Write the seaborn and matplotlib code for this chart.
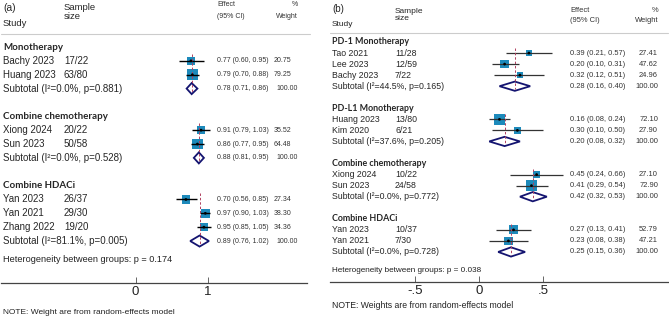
import matplotlib
matplotlib.use("Agg")
import matplotlib.pyplot as plt
import matplotlib.transforms as mtransforms
from matplotlib.patches import Polygon
import seaborn as sns
import numpy as np
import pandas as pd

# ---------------- data: panel (a) ----------------
groups_a = ["Monotherapy", "Combine chemotherapy", "Combine HDACi"]
studies_a = ["Bachy 2023", "Huang 2023", "Xiong 2024", "Sun 2023",
             "Yan 2023", "Yan 2021", "Zhang 2022"]
group_of_a = [0, 0, 1, 1, 2, 2, 2]
sample_a = ["17/22", "63/80", "20/22", "50/58", "26/37", "29/30", "19/20"]
est_a = [0.77, 0.79, 0.91, 0.86, 0.70, 0.97, 0.95]
lo_a = [0.60, 0.70, 0.79, 0.77, 0.56, 0.90, 0.85]
hi_a = [0.95, 0.88, 1.03, 0.95, 0.85, 1.03, 1.05]
w_a = [20.75, 79.25, 35.52, 64.48, 27.34, 38.30, 34.36]
sub_est_a = [0.78, 0.88, 0.89]
sub_lo_a = [0.71, 0.81, 0.76]
sub_hi_a = [0.86, 0.95, 1.02]
sub_i2_a = ["0.0", "0.0", "81.1"]
sub_p_a = ["0.881", "0.528", "0.005"]
het_p_a = "0.174"
ticks_a = [0, 1]
ticklabels_a = ["0", "1"]

# ---------------- data: panel (b) ----------------
groups_b = ["PD-1 Monotherapy", "PD-L1 Monotherapy", "Combine chemotherapy", "Combine HDACi"]
studies_b = ["Tao 2021", "Lee 2023", "Bachy 2023", "Huang 2023", "Kim 2020",
             "Xiong 2024", "Sun 2023", "Yan 2023", "Yan 2021"]
group_of_b = [0, 0, 0, 1, 1, 2, 2, 3, 3]
sample_b = ["11/28", "12/59", "7/22", "13/80", "6/21", "10/22", "24/58", "10/37", "7/30"]
est_b = [0.39, 0.20, 0.32, 0.16, 0.30, 0.45, 0.41, 0.27, 0.23]
lo_b = [0.21, 0.10, 0.12, 0.08, 0.10, 0.24, 0.29, 0.13, 0.08]
hi_b = [0.57, 0.31, 0.51, 0.24, 0.50, 0.66, 0.54, 0.41, 0.38]
w_b = [27.41, 47.62, 24.96, 72.10, 27.90, 27.10, 72.90, 52.79, 47.21]
sub_est_b = [0.28, 0.20, 0.42, 0.25]
sub_lo_b = [0.16, 0.08, 0.32, 0.15]
sub_hi_b = [0.40, 0.32, 0.53, 0.36]
sub_i2_b = ["44.5", "37.6", "0.0", "0.0"]
sub_p_b = ["0.165", "0.205", "0.772", "0.728"]
het_p_b = "0.038"
ticks_b = [-0.5, 0, 0.5]
ticklabels_b = ["-.5", "0", ".5"]

sns.set_style("white")
plt.rcParams["font.family"] = ["Liberation Sans", "DejaVu Sans"]

W, H = 669, 317
fig = plt.figure(figsize=(W / 100, H / 100), dpi=100)

SQ = "#1d8abb"
DIA = "#141470"
DASH = "#b04060"


def layout_rows(groups, group_of):
    rows = []  # (kind, index, row)
    r = 0
    for g in range(len(groups)):
        rows.append(("hdr", g, r)); r += 1
        for i, gg in enumerate(group_of):
            if gg == g:
                rows.append(("study", i, r)); r += 1
        rows.append(("sub", g, r)); r += 2
    return rows


def forest(p):
    # axes placed in pixel space
    x0, x1 = p["ax_px"]
    ax = fig.add_axes([x0 / W, (H - p["axis_y"]) / H, (x1 - x0) / W, p["axis_y"] / H])
    zx, ux = p["zero_px"], p["unit_px"]
    ax.set_xlim((x0 - zx) / ux, (x1 - zx) / ux)
    r0, sp = p["row0"], p["rowsp"]
    ax.set_ylim((p["axis_y"] - r0) / sp, -r0 / sp)

    def ay(py):  # pixel y -> data row
        return (py - r0) / sp

    tr = mtransforms.blended_transform_factory(ax.transAxes, ax.transData)

    def ax_x(px):
        return (px - x0) / (x1 - x0)

    rows = layout_rows(p["groups"], p["group_of"])
    df = pd.DataFrame({"study": p["studies"], "est": p["est"], "lo": p["lo"],
                       "hi": p["hi"], "w": p["w"]})
    df["row"] = [r for k, i, r in rows if k == "study"]
    sub_rows = [r for k, i, r in rows if k == "sub"]

    # dashed subgroup line
    for g in range(len(p["groups"])):
        first = min(df["row"][np.array(p["group_of"]) == g])
        ax.plot([p["sub_est"][g]] * 2, [first - 0.5, sub_rows[g] + 0.25],
                color=DASH, lw=0.7, ls=(0, (2.5, 2)), zorder=4)

    # CI lines
    ax.hlines(df["row"], df["lo"], df["hi"], color=p["ci_col"], lw=p["ci_lw"], zorder=3)
    # weight squares
    sns.scatterplot(data=df, x="est", y="row", size="w", sizes=p["sizes"],
                    size_norm=(0, 100), marker="s", color=SQ, edgecolor="none",
                    linewidth=0, legend=False, ax=ax, zorder=2)
    sns.scatterplot(data=df, x="est", y="row", s=4, color="black", edgecolor="none",
                    legend=False, ax=ax, zorder=5)

    # diamonds
    hh = p["dia_h"]
    for g in range(len(p["groups"])):
        r = sub_rows[g]
        e, l, h = p["sub_est"][g], p["sub_lo"][g], p["sub_hi"][g]
        ax.add_patch(Polygon([(l, r), (e, r - hh), (h, r), (e, r + hh)], closed=True,
                             facecolor="white", edgecolor=DIA, lw=1.3, zorder=3))

    # text columns
    fs, fse = p["fs"], p["fs_eff"]
    for kind, i, r in rows:
        if kind == "hdr":
            ax.text(ax_x(p["c_study"]), r, p["groups"][i], transform=tr, fontsize=p["fs_hdr"],
                    fontweight="bold", family=["Lato", "DejaVu Sans"], va="center", ha="left")
        elif kind == "study":
            ax.text(ax_x(p["c_study"]), r, p["studies"][i], transform=tr, fontsize=fs,
                    va="center", ha="left")
            ax.text(ax_x(p["c_n"]), r, p["sample"][i], transform=tr, fontsize=fs,
                    va="center", ha="left")
            eff = f"{p['est'][i]:.2f} ({p['lo'][i]:.2f}, {p['hi'][i]:.2f})"
            ax.text(ax_x(p["c_eff"]), r, eff, transform=tr, fontsize=fse,
                    va="center", ha="left", color="#333333")
            ax.text(ax_x(p["c_w"]), r, f"{p['w'][i]:.2f}", transform=tr, fontsize=fse,
                    va="center", ha="right", color="#333333")
        else:
            lab = f"Subtotal (I\u00b2={p['sub_i2'][i]}%, p={p['sub_p'][i]})"
            ax.text(ax_x(p["c_study"]), r, lab, transform=tr, fontsize=fs,
                    va="center", ha="left")
            eff = f"{p['sub_est'][i]:.2f} ({p['sub_lo'][i]:.2f}, {p['sub_hi'][i]:.2f})"
            ax.text(ax_x(p["c_eff"]), r, eff, transform=tr, fontsize=fse,
                    va="center", ha="left", color="#333333")
            ax.text(ax_x(p["c_w100"]), r, "100.00", transform=tr, fontsize=fse,
                    va="center", ha="right", color="#333333")

    ax.text(ax_x(p["c_study"]), ay(p["het_y"]),
            f"Heterogeneity between groups: p = {p['het_p']}", transform=tr,
            fontsize=p["fs_het"], va="center", ha="left", color="#222222")

    # header
    hd = p["hdr"]
    ax.text(ax_x(p["c_study"]), ay(hd["lab_y"]), p["label"], transform=tr, fontsize=p["fs_lab"],
            va="center", ha="left")
    ax.text(ax_x(p["c_study"]), ay(hd["study_y"]), "Study", transform=tr, fontsize=p["fs_top"],
            va="center", ha="left")
    ax.text(ax_x(p["c_n"]), ay(hd["ss_y"]), "Sample\nsize", transform=tr, fontsize=p["fs_top"],
            va="center", ha="left", linespacing=0.95)
    ax.text(ax_x(p["c_eff"]), ay(hd["eff_y1"]), "Effect", transform=tr, fontsize=fse,
            va="center", ha="left", color="#333333")
    ax.text(ax_x(p["c_eff"]), ay(hd["eff_y2"]), "(95% CI)", transform=tr, fontsize=fse,
            va="center", ha="left", color="#333333")
    ax.text(ax_x(p["c_w100"]), ay(hd["eff_y1"]), "%", transform=tr, fontsize=fse,
            va="center", ha="right", color="#333333")
    ax.text(ax_x(p["c_w100"]), ay(hd["eff_y2"]), "Weight", transform=tr, fontsize=fse,
            va="center", ha="right", color="#333333")
    ax.plot([0, ax_x(hd["line_x1"])], [ay(hd["line_y"])] * 2, transform=tr,
            color="#cccccc", lw=0.8, clip_on=False)

    # axis
    for s in ["left", "right", "top"]:
        ax.spines[s].set_visible(False)
    ax.spines["bottom"].set_color("#444444")
    ax.spines["bottom"].set_linewidth(0.9)
    ax.set_yticks([])
    ax.set_xticks(p["ticks"])
    ax.set_xticklabels(p["ticklabels"], fontsize=9.5, color="#222222")
    ax.tick_params(axis="x", direction="in", length=4, width=0.7, color="#666666", pad=2,
                   bottom=True)
    ax.set_xlabel("")
    ax.set_ylabel("")
    ax.set_facecolor("none")
    ax.grid(False)

    fig.text(p["c_study"] / W, 1 - p["note_y"] / H, p["note"], fontsize=p["fs_note"],
             va="center", ha="left", color="#222222")
    return ax


panel_a = dict(
    label="(a)", groups=groups_a, studies=studies_a, group_of=group_of_a, sample=sample_a,
    est=est_a, lo=lo_a, hi=hi_a, w=w_a, sub_est=sub_est_a, sub_lo=sub_lo_a,
    sub_hi=sub_hi_a, sub_i2=sub_i2_a, sub_p=sub_p_a, het_p=het_p_a,
    ticks=ticks_a, ticklabels=ticklabels_a,
    ax_px=(1, 307), axis_y=283, zero_px=135.5, unit_px=72, row0=47, rowsp=13.86,
    c_study=3, c_n=64, c_eff=217, c_w=291, c_w100=298, sizes=(20, 72), dia_h=0.4,
    ci_col="black", ci_lw=1.0, fs=7.0, fs_hdr=7.0, fs_eff=5.0, fs_top=6.8, fs_lab=7.4,
    fs_het=6.6, fs_note=6.0, het_y=260, note_y=313,
    hdr=dict(lab_y=8, study_y=24, ss_y=12, eff_y1=4, eff_y2=17, line_y=34, line_x1=310),
    note="NOTE: Weight are from random-effects model",
)

panel_b = dict(
    label="(b)", groups=groups_b, studies=studies_b, group_of=group_of_b, sample=sample_b,
    est=est_b, lo=lo_b, hi=hi_b, w=w_b, sub_est=sub_est_b, sub_lo=sub_lo_b,
    sub_hi=sub_hi_b, sub_i2=sub_i2_b, sub_p=sub_p_b, het_p=het_p_b,
    ticks=ticks_b, ticklabels=ticklabels_b,
    ax_px=(330, 668), axis_y=282, zero_px=479, unit_px=128, row0=42, rowsp=11.05,
    c_study=332, c_n=395, c_eff=570, c_w=658, c_w100=658, sizes=(0, 84), dia_h=0.42,
    ci_col="#333333", ci_lw=0.9, fs=6.3, fs_hdr=6.4, fs_eff=5.4, fs_top=6.0, fs_lab=7.0,
    fs_het=5.9, fs_note=6.2, het_y=271, note_y=305,
    hdr=dict(lab_y=9, study_y=25, ss_y=15, eff_y1=10, eff_y2=20, line_y=33, line_x1=668),
    note="NOTE: Weights are from random-effects model",
)

forest(panel_a)
forest(panel_b)

fig.savefig("out.png", dpi=100)
